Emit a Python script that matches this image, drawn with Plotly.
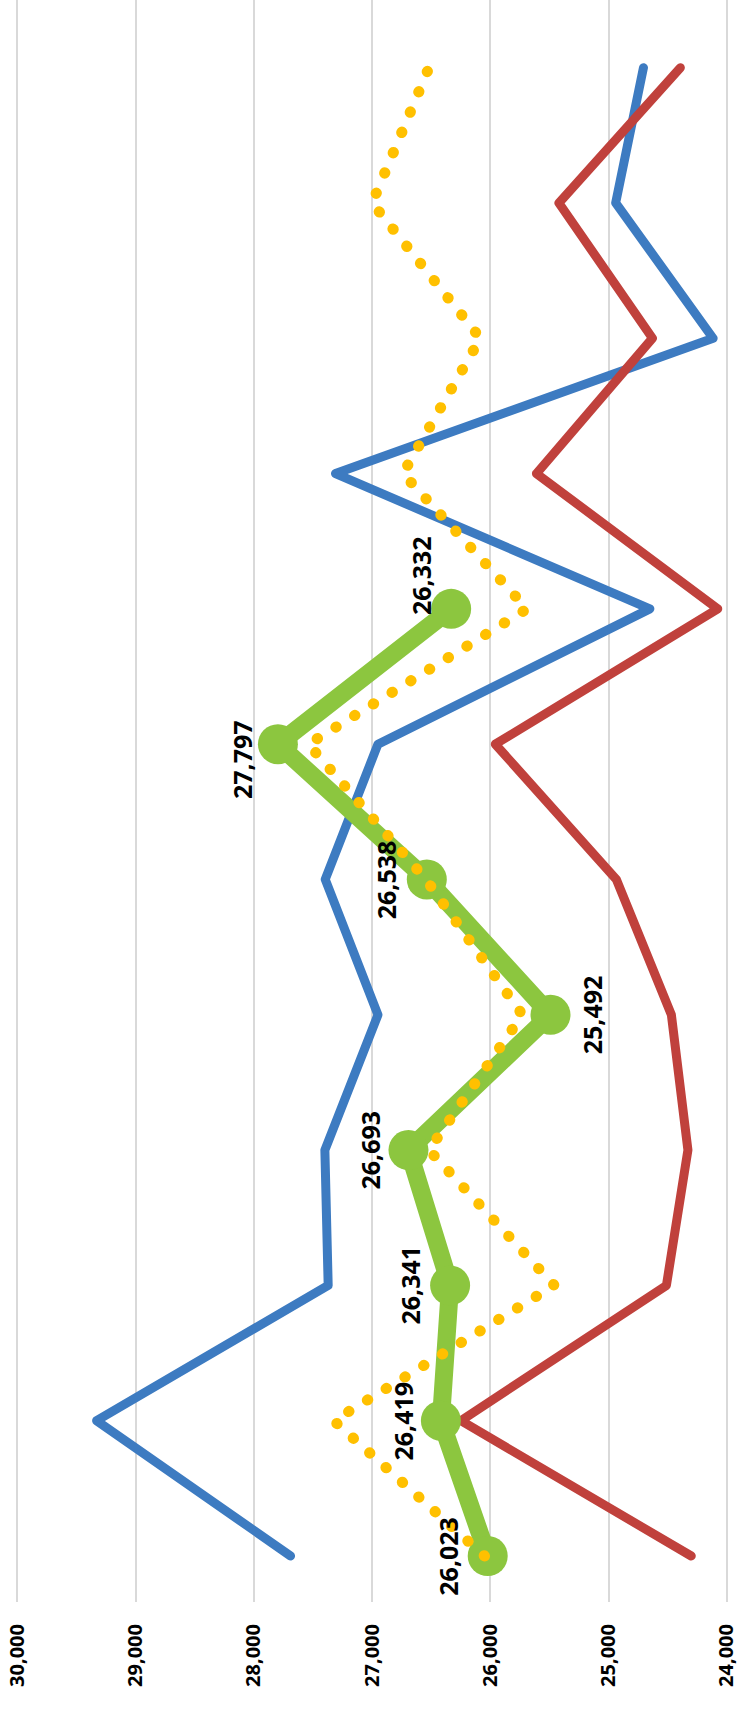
import plotly.graph_objects as go

# ---- data ----
categories = ["P1", "P2", "P3", "P4", "P5", "P6", "P7", "P8", "P9", "P10", "P11", "P12"]
blue_vals = [27690, 29330, 27372, 27400, 26951, 27397, 26951, 24652, 27310, 24117, 24941, 24706]
red_vals = [24302, 26250, 24512, 24330, 24470, 24935, 25959, 24078, 25611, 24630, 25421, 24394]
orange_vals = [26050, 27325, 25460, 26520, 25730, 26545, 27540, 25690, 26740, 26085, 27000, 26520]
green_vals = [26023, 26419, 26341, 26693, 25492, 26538, 27797, 26332, None, None, None, None]
tick_vals = [30000, 29000, 28000, 27000, 26000, 25000, 24000]
tick_text = ["30,000", "29,000", "28,000", "27,000", "26,000", "25,000", "24,000"]

# label offsets (pixels) for the green data labels
label_xshift = [-40, -38, -40, -38, 41, -40, -36, -30]
label_yshift = [0, 0, 0, 0, 0, 0, -15, 33]

BLUE = "#3D7BC1"
RED = "#C0413C"
GREEN = "#8CC63F"
ORANGE = "#FFC000"

fig = go.Figure()
fig.add_trace(go.Scatter(x=blue_vals, y=categories, mode="lines",
                         line=dict(color=BLUE, width=9), hoverinfo="skip"))
fig.add_trace(go.Scatter(x=red_vals, y=categories, mode="lines",
                         line=dict(color=RED, width=9), hoverinfo="skip"))
fig.add_trace(go.Scatter(x=green_vals, y=categories, mode="lines+markers",
                         line=dict(color=GREEN, width=18),
                         marker=dict(color=GREEN, size=40, line=dict(width=0)),
                         hoverinfo="skip"))
fig.add_trace(go.Scatter(x=orange_vals, y=categories, mode="lines",
                         line=dict(color=ORANGE, width=11, dash="dot"), hoverinfo="skip"))

for i, v in enumerate(green_vals):
    if v is None:
        continue
    fig.add_annotation(x=v, y=categories[i], text=f"{v:,}", showarrow=False,
                       textangle=-90, xshift=label_xshift[i], yshift=label_yshift[i],
                       font=dict(family="Open Sans", size=25, color="#000000", weight="bold"))

fig.update_layout(
    width=739, height=1711,
    margin=dict(l=0, r=0, t=0, b=109),
    paper_bgcolor="white", plot_bgcolor="white",
    showlegend=False,
    xaxis=dict(range=[30147, 23932], tickvals=tick_vals, ticktext=tick_text,
               tickangle=-90, showgrid=True, gridcolor="#D9D9D9", gridwidth=1.5,
               zeroline=False, showline=False, ticks="", ticklabelstandoff=17,
               ticklabeloverflow="allow",
               tickfont=dict(family="Open Sans", size=20, color="#000000", weight="bold")),
    yaxis=dict(type="category", categoryarray=categories, range=[-0.34, 11.5],
               showgrid=False, zeroline=False,
               showline=False, showticklabels=False, ticks=""),
)

post_script = """
var gd = document.getElementById('{plot_id}');
function fixLines(){
  gd.querySelectorAll('path.js-line').forEach(function(p){
    p.style.strokeLinecap = 'round';
    p.style.strokeLinejoin = 'round';
    var s = (p.style.stroke || '').replace(/\\s/g, '');
    if (s.indexOf('255,192,0') >= 0 || s.toLowerCase() === '#ffc000') {
      p.style.strokeDasharray = '0.5px,21.5px';
    }
  });
}
fixLines();
if (gd.on) { gd.on('plotly_afterplot', fixLines); }
setTimeout(fixLines, 50);
"""

fig.write_html("out.html", post_script=post_script)
